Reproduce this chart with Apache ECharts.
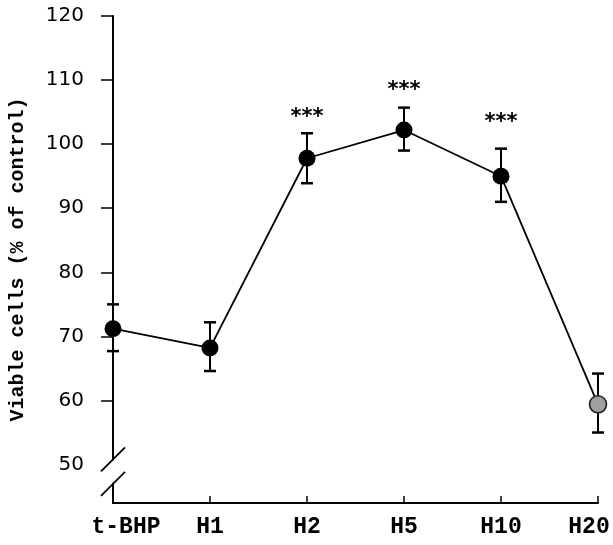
<!DOCTYPE html>
<html>
<head>
<meta charset="utf-8">
<script src="https://cdn.jsdelivr.net/npm/echarts@6/dist/echarts.min.js"></script>
<style>
html,body{margin:0;padding:0;background:#fff;}
#chart{width:613px;height:545px;}
</style>
</head>
<body>
<div id="chart"></div>
<script>
var categories = ['t-BHP', 'H1', 'H2', 'H5', 'H10', 'H20'];
var meanValues = [71.2, 68.2, 97.8, 102.2, 95.0, 59.4];
var upperValues = [75.0, 72.2, 101.7, 105.7, 99.3, 64.2];
var lowerValues = [67.7, 64.6, 93.9, 99.0, 91.0, 55.0];
var starLabels = ['', '', '***', '***', '***', ''];
var starLevels = [null, null, 105.0, 109.2, 104.1, null];
var yTickLabels = [50, 60, 70, 80, 90, 100, 110, 120];
var yTickMarks = [60, 70, 80, 90, 100, 110, 120];
var axisMin = 44, axisMax = 120;
var breakUpper = 50.8, breakLower = 47.0;

var chart = echarts.init(document.getElementById('chart'));

var errData = categories.map(function (c, i) { return [i, lowerValues[i], upperValues[i]]; });
var starData = [];
categories.forEach(function (c, i) {
  if (starLabels[i]) starData.push({ value: [i, starLevels[i]], label: starLabels[i] });
});
var lineData = meanValues.map(function (v, i) {
  if (i === categories.length - 1) {
    return { value: v, itemStyle: { color: '#a0a0a0', borderColor: '#222', borderWidth: 1.6 } };
  }
  return v;
});

var xLabelFont = { color: '#000', fontFamily: 'Liberation Mono', fontWeight: 'bold', fontSize: 23 };

chart.setOption({
  animation: false,
  backgroundColor: '#fff',
  grid: { left: 113, right: 15, top: 16, bottom: 42, containLabel: false, outerBoundsMode: 'none' },
  xAxis: {
    type: 'category',
    data: categories,
    boundaryGap: false,
    axisLine: { show: true, lineStyle: { color: '#000', width: 2 } },
    axisTick: { show: true, interval: 0, inside: true, length: 7, lineStyle: { color: '#000', width: 1.5 } },
    axisLabel: {
      interval: 0,
      hideOverlap: false,
      margin: 13,
      color: '#000', fontFamily: 'Liberation Mono', fontWeight: 'bold', fontSize: 23,
      formatter: function (v, i) {
        if (i === 0) return '{first|' + v + '}';
        if (i === categories.length - 1) return '{last|' + v + '}';
        return v;
      },
      rich: {
        first: Object.assign({ padding: [0, 0, 0, 26] }, xLabelFont),
        last: Object.assign({ padding: [0, 18, 0, 0] }, xLabelFont)
      }
    },
    splitLine: { show: false }
  },
  yAxis: {
    type: 'value',
    min: axisMin,
    max: axisMax,
    name: 'Viable cells (% of control)',
    nameLocation: 'middle',
    nameGap: 85,
    nameTextStyle: { color: '#000', fontFamily: 'Liberation Mono', fontWeight: 'bold', fontSize: 20 },
    axisLine: { show: true, lineStyle: { color: '#000', width: 2 } },
    axisTick: { show: true, inside: false, length: 12, customValues: yTickMarks, lineStyle: { color: '#000', width: 1.5 } },
    axisLabel: { margin: 29, color: '#000', fontFamily: 'DejaVu Sans', fontSize: 20, customValues: yTickLabels },
    splitLine: { show: false }
  },
  series: [
    {
      type: 'custom',
      z: 2,
      data: errData,
      renderItem: function (params, api) {
        var x = api.value(0);
        var lo = api.coord([x, api.value(1)]);
        var hi = api.coord([x, api.value(2)]);
        var hw = 6;
        var st = { stroke: '#000', lineWidth: 2 };
        return {
          type: 'group',
          children: [
            { type: 'line', shape: { x1: hi[0], y1: hi[1], x2: lo[0], y2: lo[1] }, style: st },
            { type: 'line', shape: { x1: hi[0] - hw, y1: hi[1], x2: hi[0] + hw, y2: hi[1] }, style: { stroke: '#000', lineWidth: 2.5 } },
            { type: 'line', shape: { x1: lo[0] - hw, y1: lo[1], x2: lo[0] + hw, y2: lo[1] }, style: { stroke: '#000', lineWidth: 2.5 } }
          ]
        };
      }
    },
    {
      type: 'line',
      z: 3,
      data: lineData,
      symbol: 'circle',
      symbolSize: 17,
      lineStyle: { color: '#000', width: 1.8 },
      itemStyle: { color: '#000' }
    },
    {
      type: 'custom',
      z: 4,
      data: starData.map(function (d) { return d.value; }),
      renderItem: function (params, api) {
        var p = api.coord([api.value(0), api.value(1)]);
        return {
          type: 'text',
          style: {
            x: p[0], y: p[1] + 5, text: starData[params.dataIndex].label,
            align: 'center', verticalAlign: 'middle',
            fill: '#000', font: 'bold 21px "DejaVu Sans"'
          }
        };
      }
    }
  ]
});

function drawBreak() {
  var x0 = chart.convertToPixel({ xAxisIndex: 0 }, 0);
  var yU = chart.convertToPixel({ yAxisIndex: 0 }, breakUpper);
  var yL = chart.convertToPixel({ yAxisIndex: 0 }, breakLower);
  var d = 12;
  chart.setOption({
    graphic: [
      { type: 'rect', shape: { x: x0 - 4, y: yU + 1, width: 8, height: yL - yU - 2 }, style: { fill: '#fff' }, z: 100 },
      { type: 'line', shape: { x1: x0 - d, y1: yU + d, x2: x0 + d, y2: yU - d }, style: { stroke: '#000', lineWidth: 1.8 }, z: 101 },
      { type: 'line', shape: { x1: x0 - d, y1: yL + d, x2: x0 + d, y2: yL - d }, style: { stroke: '#000', lineWidth: 1.8 }, z: 101 }
    ]
  });
}
drawBreak();
</script>
</body>
</html>
